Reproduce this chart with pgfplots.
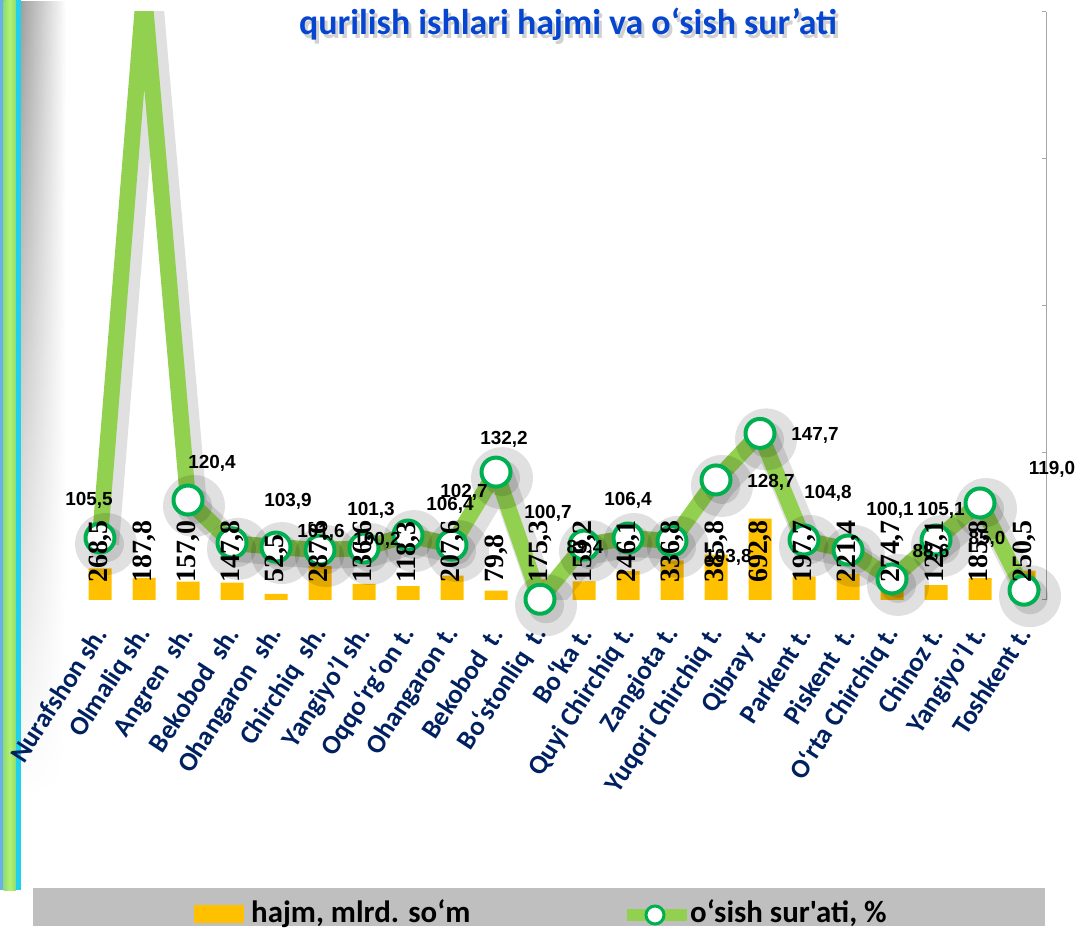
\documentclass[border=0pt]{standalone}
\usepackage{fontspec}
\usepackage{pgfplots}
\usepackage{pgfplotstable}
\pgfplotsset{compat=1.18}
\usetikzlibrary{fadings}
\setmainfont{Carlito}[Ligatures=TeXOff]
\newfontfamily\arialf{Liberation Sans}[Ligatures=TeXOff]
\newfontfamily\timesf{Liberation Serif}[Ligatures=TeXOff]
\definecolor{barc}{HTML}{FFC000}
\definecolor{linec}{HTML}{92D050}
\definecolor{markc}{HTML}{00B050}
\definecolor{navy}{HTML}{002060}
\definecolor{titlec}{HTML}{0545CF}
\definecolor{legbg}{HTML}{BFBFBF}
\definecolor{axc}{HTML}{A6A6A6}
\definecolor{stripb}{HTML}{6AAEEA}
\definecolor{stripg}{HTML}{B4F26E}
\definecolor{stripg2}{HTML}{8EDC74}
\definecolor{stripc}{HTML}{1ED2EE}

\pgfplotstableread{
x hajm lbl ly
0 268.5 268,5 86.9
1 187.8 187,8 86.9
2 157.0 157,0 86.9
3 147.8 147,8 86.9
4 52.5 52,5 86.9
5 287.6 287,6 86.9
6 136.6 136,6 86.9
7 118.3 118,3 86.9
8 207.6 207,6 86.9
9 79.8 79,8 86.9
10 175.3 175,3 86.9
11 159.2 159,2 86.9
12 246.1 246,1 86.9
13 336.8 336,8 86.9
14 385.8 385,8 86.9
15 692.8 692,8 86.9
16 197.7 197,7 86.9
17 221.4 221,4 86.9
18 274.7 274,7 86.9
19 127.1 127,1 86.9
20 185.8 185,8 86.9
21 250.5 250,5 86.9
}\hajmtab

\pgfplotstableread{
x rate
0 105.3
1 328
2 120.8
3 103.3
4 101.6
5 100.4
6 101.2
7 106.5
8 102.4
9 132.2
10 80.3
11 102.4
12 105.3
13 104.1
14 129.0
15 148.0
16 104.5
17 100.4
18 88.6
19 104.5
20 119.6
21 84.0
}\ratetab

\begin{document}
\begin{tikzpicture}
\begin{scope}[x=1bp,y=1bp]
\path[use as bounding box] (0,0) rectangle (1078,926);
% left decorative strip and its shadow
\shade[left color=black!38, right color=white, path fading=south] (20,130) rectangle (66,926);
\fill[stripb] (0,36) rectangle (4,926);
\shade[left color=stripg2, right color=stripg2, middle color=stripg] (3.5,36) rectangle (16,926);
\fill[stripc] (16,36) rectangle (20.5,926);
\end{scope}

% bars axis
\begin{axis}[at={(78bp,326bp)}, anchor=south west, scale only axis,
  width=968bp, height=588bp,
  xmin=-0.5, xmax=21.5, ymin=0, ymax=5000,
  ybar, bar width=23bp,
  axis line style={draw=none}, ytick=\empty,
  xtick={0,...,21}, major tick length=0pt,
  xticklabels={Nurafshon sh.,Olmaliq sh.,Angren~ sh.,Bekobod~ sh.,Ohangaron~ sh.,Chirchiq~ sh.,Yangiyo’l sh.,Oqqo‘rg‘on t.,Ohangaron t.,Bekobod~ t.,Bo‘stonliq~ t.,Bo‘ka t.,Quyi Chirchiq t.,Zangiota t.,Yuqori Chirchiq t.,Qibray t.,Parkent t.,Piskent~ t.,O‘rta Chirchiq t.,Chinoz t.,Yangiyo’l t.,Toshkent t.},
  x tick label style={yshift=-29bp, xshift=1bp, rotate=57, anchor=east, inner sep=0pt,
    font=\bfseries\fontsize{27}{27}\selectfont, text=navy},
  clip=false]
\addplot[fill=barc, draw=none] table[x=x,y=hajm]{\hajmtab};
\end{axis}

% rate axis (right)
\begin{axis}[at={(78bp,326bp)}, anchor=south west, scale only axis,
  width=968bp, height=588bp,
  xmin=-0.5, xmax=21.5, ymin=80, ymax=320,
  axis x line=none, axis y line*=right,
  ytick={80,140,200,260,320}, yticklabels={},
  tick align=inside, major tick length=4bp,
  y axis line style={draw=axc, line width=1bp},
  ytick style={draw=axc, line width=1bp},
  clip marker paths=false]
% soft shadow of the line
\addplot[black, opacity=0.12, line width=26bp, line join=round, xshift=6bp, yshift=-6bp,
  mark=*, mark size=18bp, mark options={draw=none, fill=black, opacity=0.12}] table[x=x,y=rate]{\ratetab};
% the line
\addplot[linec, line width=16bp, line join=round,
  mark=*, mark size=14.5bp, mark options={draw=markc, fill=white, line width=4bp}]
  table[x=x,y=rate]{\ratetab};
% bar value labels
\addplot[draw=none, mark=none, nodes near coords, point meta=explicit symbolic,
  every node near coord/.append style={anchor=west, rotate=90, inner sep=0pt,
    font=\timesf\bfseries\fontsize{28}{28}\selectfont, text=black}]
  table[x=x, y=ly, meta=lbl]{\hajmtab};
\end{axis}

\begin{scope}[x=1bp,y=1bp]
% line value labels
\foreach \px/\py/\t in {89/500/{105,5}, 212/463/{120,4}, 288/501/{103,9}, 321/532/{101,6},
  371/510/{101,3}, 377/540/{100,2}, 450/505/{106,4}, 464/492/{102,7}, 504/439/{132,2},
  548/513/{100,7}, 585/548/{89,4}, 628/500/{106,4}, 728/557/{103,8}, 771/482/{128,7},
  815/435/{147,7}, 828/493/{104,8}, 890/510/{100,1}, 941/510/{105,1}, 931/552/{88,6},
  987/539/{85,0}, 1052/469/{119,0}}
  \node[font=\arialf\bfseries\fontsize{19}{19}\selectfont, inner sep=0pt] at (\px,926-\py) {\t};

% title
\node[font=\bfseries\fontsize{36}{36}\selectfont, text=black, opacity=0.18] at (571,926-28) {qurilish ishlari hajmi va o‘sish sur’ati};
\node[font=\bfseries\fontsize{36}{36}\selectfont, text=titlec] at (568,926-24) {qurilish ishlari hajmi va o‘sish sur’ati};

% legend
\fill[legbg] (33,0) rectangle (1045,926-888);
\fill[barc] (194,926-923) rectangle (244,926-905);
\node[anchor=base west, inner sep=0pt, font=\bfseries\fontsize{31}{31}\selectfont] at (251,926-922) {hajm, mlrd. so‘m};
\draw[linec, line width=12bp] (627,926-915) -- (687,926-915);
\draw[markc, fill=white, line width=3bp] (655,926-915) circle (9);
\node[anchor=base west, inner sep=0pt, font=\bfseries\fontsize{31}{31}\selectfont] at (690,926-922) {o‘sish sur'ati, \%};
\end{scope}
\end{tikzpicture}
\end{document}
